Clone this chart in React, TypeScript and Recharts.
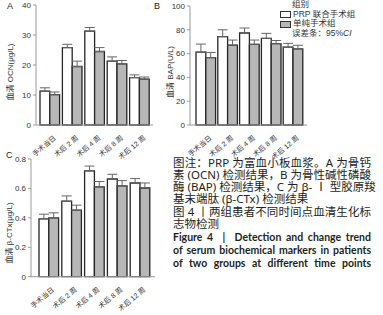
import React from 'react';
import { BarChart, Bar, XAxis, YAxis, ErrorBar } from 'recharts';

const timePoints = ['手术当日', '术后 2 周', '术后 4 周', '术后 8 周', '术后 12 周'];

// A: OCN (μg/L)
const ocnPrp = [11.3, 25.8, 31.3, 21.3, 15.8];
const ocnPrpErr = [1.1, 1.1, 1.2, 1.4, 0.9];
const ocnCtrl = [10.1, 19.5, 24.5, 20.4, 15.3];
const ocnCtrlErr = [0.9, 1.8, 1.3, 1.1, 0.7];
const ocnTicks = [0, 10, 20, 30, 40];

// B: BAP (U/L)
const bapPrp = [61.3, 74.2, 77.3, 72.8, 65.5];
const bapPrpErr = [6.7, 5.8, 4.2, 4.2, 3.1];
const bapCtrl = [56.6, 67.0, 67.8, 68.3, 63.9];
const bapCtrlErr = [4.4, 4.4, 3.6, 2.7, 3.1];
const bapTicks = [0, 20, 40, 60, 80, 100];

// C: β-CTx (μg/L)
const ctxPrp = [0.393, 0.513, 0.719, 0.664, 0.637];
const ctxPrpErr = [0.032, 0.036, 0.033, 0.032, 0.03];
const ctxCtrl = [0.4, 0.452, 0.61, 0.617, 0.603];
const ctxCtrlErr = [0.034, 0.034, 0.037, 0.036, 0.034];
const ctxTicks = [0, 0.2, 0.4, 0.6, 0.8];

const buildRows = (prp: number[], prpErr: number[], ctrl: number[], ctrlErr: number[]) =>
  timePoints.map((name, i) => ({
    name,
    prp: prp[i],
    prpErr: [0, prpErr[i]],
    ctrl: ctrl[i],
    ctrlErr: [0, ctrlErr[i]],
  }));

const FONT = "'Liberation Sans', 'Noto Sans CJK SC', sans-serif";
const CJK = "'Noto Sans', 'Noto Sans CJK SC', sans-serif";

function AngledTick({ x, y, payload }: any) {
  return (
    <g transform={`translate(${x + 3},${y + 2})`}>
      <text
        textAnchor="end"
        transform="rotate(-40)"
        dy={5}
        fontSize={7}
        fill="#333"
        fontFamily={FONT}
      >
        {payload.value}
      </text>
    </g>
  );
}

interface PanelProps {
  data: any[];
  width: number;
  height: number;
  margin: { top: number; right: number; left: number; bottom: number };
  yWidth: number;
  xHeight: number;
  ticks: number[];
  padding: { left: number; right: number };
  fmt?: (v: number) => string;
}

function Panel({ data, width, height, margin, yWidth, xHeight, ticks, padding, fmt }: PanelProps) {
  return (
    <BarChart width={width} height={height} data={data} margin={margin} barGap={0} barSize={9.8}>
      <XAxis
        dataKey="name"
        interval={0}
        height={xHeight}
        tick={<AngledTick />}
        tickLine={false}
        axisLine={{ stroke: '#9a9a9a' }}
        padding={padding}
      />
      <YAxis
        width={yWidth}
        domain={[ticks[0], ticks[ticks.length - 1]]}
        ticks={ticks}
        interval={0}
        tickFormatter={fmt}
        tick={{ fontSize: 8, fill: '#333', fontFamily: FONT }}
        tickSize={3}
        tickLine={{ stroke: '#9a9a9a' }}
        axisLine={{ stroke: '#9a9a9a' }}
      />
      <Bar dataKey="prp" fill="#ffffff" stroke="#262626" strokeWidth={1.3} isAnimationActive={false}>
        <ErrorBar dataKey="prpErr" width={5} stroke="#666" strokeWidth={1} />
      </Bar>
      <Bar dataKey="ctrl" fill="#b7b7b7" stroke="#262626" strokeWidth={1.3} isAnimationActive={false}>
        <ErrorBar dataKey="ctrlErr" width={5} stroke="#666" strokeWidth={1} />
      </Bar>
    </BarChart>
  );
}

const abs = (left: number, top: number, extra: React.CSSProperties = {}): React.CSSProperties => ({
  position: 'absolute',
  left,
  top,
  ...extra,
});

function YLabel({ left, top, text }: { left: number; top: number; text: string }) {
  return (
    <div
      style={abs(left, top, {
        transform: 'translate(-50%, -50%) rotate(-90deg)',
        fontSize: 8,
        fontFamily: FONT,
        color: '#333',
        whiteSpace: 'nowrap',
      })}
    >
      {text}
    </div>
  );
}

const captionLines = [
  '图注：PRP 为富血小板血浆。A 为骨钙',
  '素 (OCN) 检测结果，B 为骨性碱性磷酸',
  '酶 (BAP) 检测结果，C 为 β- Ⅰ 型胶原羧',
  '基末端肽 (β-CTx) 检测结果',
  '图 4 丨两组患者不同时间点血清生化标',
  '志物检测',
];
const captionTops = [156.5, 169, 181, 193, 206, 218];
const englishLines = [
  'Figure 4  |  Detection and change trend',
  'of serum biochemical markers in patients',
  'of two groups at different time points',
];
const englishTops = [231, 244, 257];

export default function App() {
  const dataA = buildRows(ocnPrp, ocnPrpErr, ocnCtrl, ocnCtrlErr);
  const dataB = buildRows(bapPrp, bapPrpErr, bapCtrl, bapCtrlErr);
  const dataC = buildRows(ctxPrp, ctxPrpErr, ctxCtrl, ctxCtrlErr);

  return (
    <div style={{ position: 'fixed', left: 0, top: 0, width: 383, height: 315, background: '#fff', overflow: 'hidden' }}>
      <div style={abs(0, 0)}>
        <Panel
          data={dataA}
          width={160}
          height={175}
          margin={{ top: 5, right: 7, left: 0, bottom: 0 }}
          yWidth={36}
          xHeight={50}
          ticks={ocnTicks}
          padding={{ left: 3, right: 2 }}
        />
      </div>
      <div style={abs(150, 0)}>
        <Panel
          data={dataB}
          width={162}
          height={175}
          margin={{ top: 6, right: 5, left: 0, bottom: 0 }}
          yWidth={40}
          xHeight={50}
          ticks={bapTicks}
          padding={{ left: 5, right: 3 }}
        />
      </div>
      <div style={abs(0, 150)}>
        <Panel
          data={dataC}
          width={160}
          height={165}
          margin={{ top: 9, right: 5, left: 0, bottom: 0 }}
          yWidth={31}
          xHeight={38.3}
          ticks={ctxTicks}
          padding={{ left: 6, right: 4 }}
          fmt={(v) => (v === 0 ? '0' : v.toFixed(1))}
        />
      </div>

      <div style={abs(7, 1, { fontSize: 9, fontFamily: FONT, color: '#222' })}>A</div>
      <div style={abs(154, 1, { fontSize: 9, fontFamily: FONT, color: '#222' })}>B</div>
      <div style={abs(6, 150, { fontSize: 9, fontFamily: FONT, color: '#222' })}>C</div>

      <YLabel left={9} top={72} text="血清 OCN(μg/L)" />
      <YLabel left={169} top={72} text="血清 BAP(U/L)" />
      <YLabel left={8} top={233} text="血清 β-CTx(μg/L)" />

      <div style={{ ...abs(280, 0), fontSize: 8.5, fontFamily: FONT, color: '#333', lineHeight: '9.7px' }}>
        <div style={{ paddingLeft: 12 }}>组别</div>
        <div style={{ display: 'flex', alignItems: 'center' }}>
          <span style={{ width: 9, height: 5, border: '1px solid #333', background: '#fff', marginRight: 2 }} />
          PRP 联合手术组
        </div>
        <div style={{ display: 'flex', alignItems: 'center' }}>
          <span style={{ width: 9, height: 5, border: '1px solid #333', background: '#b7b7b7', marginRight: 2 }} />
          单纯手术组
        </div>
        <div style={{ paddingLeft: 12 }}>
          误差条：95%<i>CI</i>
        </div>
      </div>

      {captionLines.map((line, i) => (
        <div
          key={line}
          style={abs(173, captionTops[i], {
            width: 198,
            fontSize: 11.5,
            lineHeight: '12px',
            fontFamily: CJK,
            color: '#231f20',
            whiteSpace: 'nowrap',
            textAlign: 'justify',
            textAlignLast: i === 3 || i === 5 ? 'left' : 'justify',
          })}
        >
          {line}
        </div>
      ))}
      {englishLines.map((line, i) => (
        <div
          key={line}
          style={abs(173, englishTops[i], {
            width: 198,
            fontSize: 10.5,
            lineHeight: '12px',
            fontWeight: 700,
            fontFamily: "Lato, 'Noto Sans', sans-serif",
            color: '#231f20',
            whiteSpace: 'pre',
            textAlign: 'justify',
            textAlignLast: 'justify',
          })}
        >
          {line}
        </div>
      ))}
    </div>
  );
}
